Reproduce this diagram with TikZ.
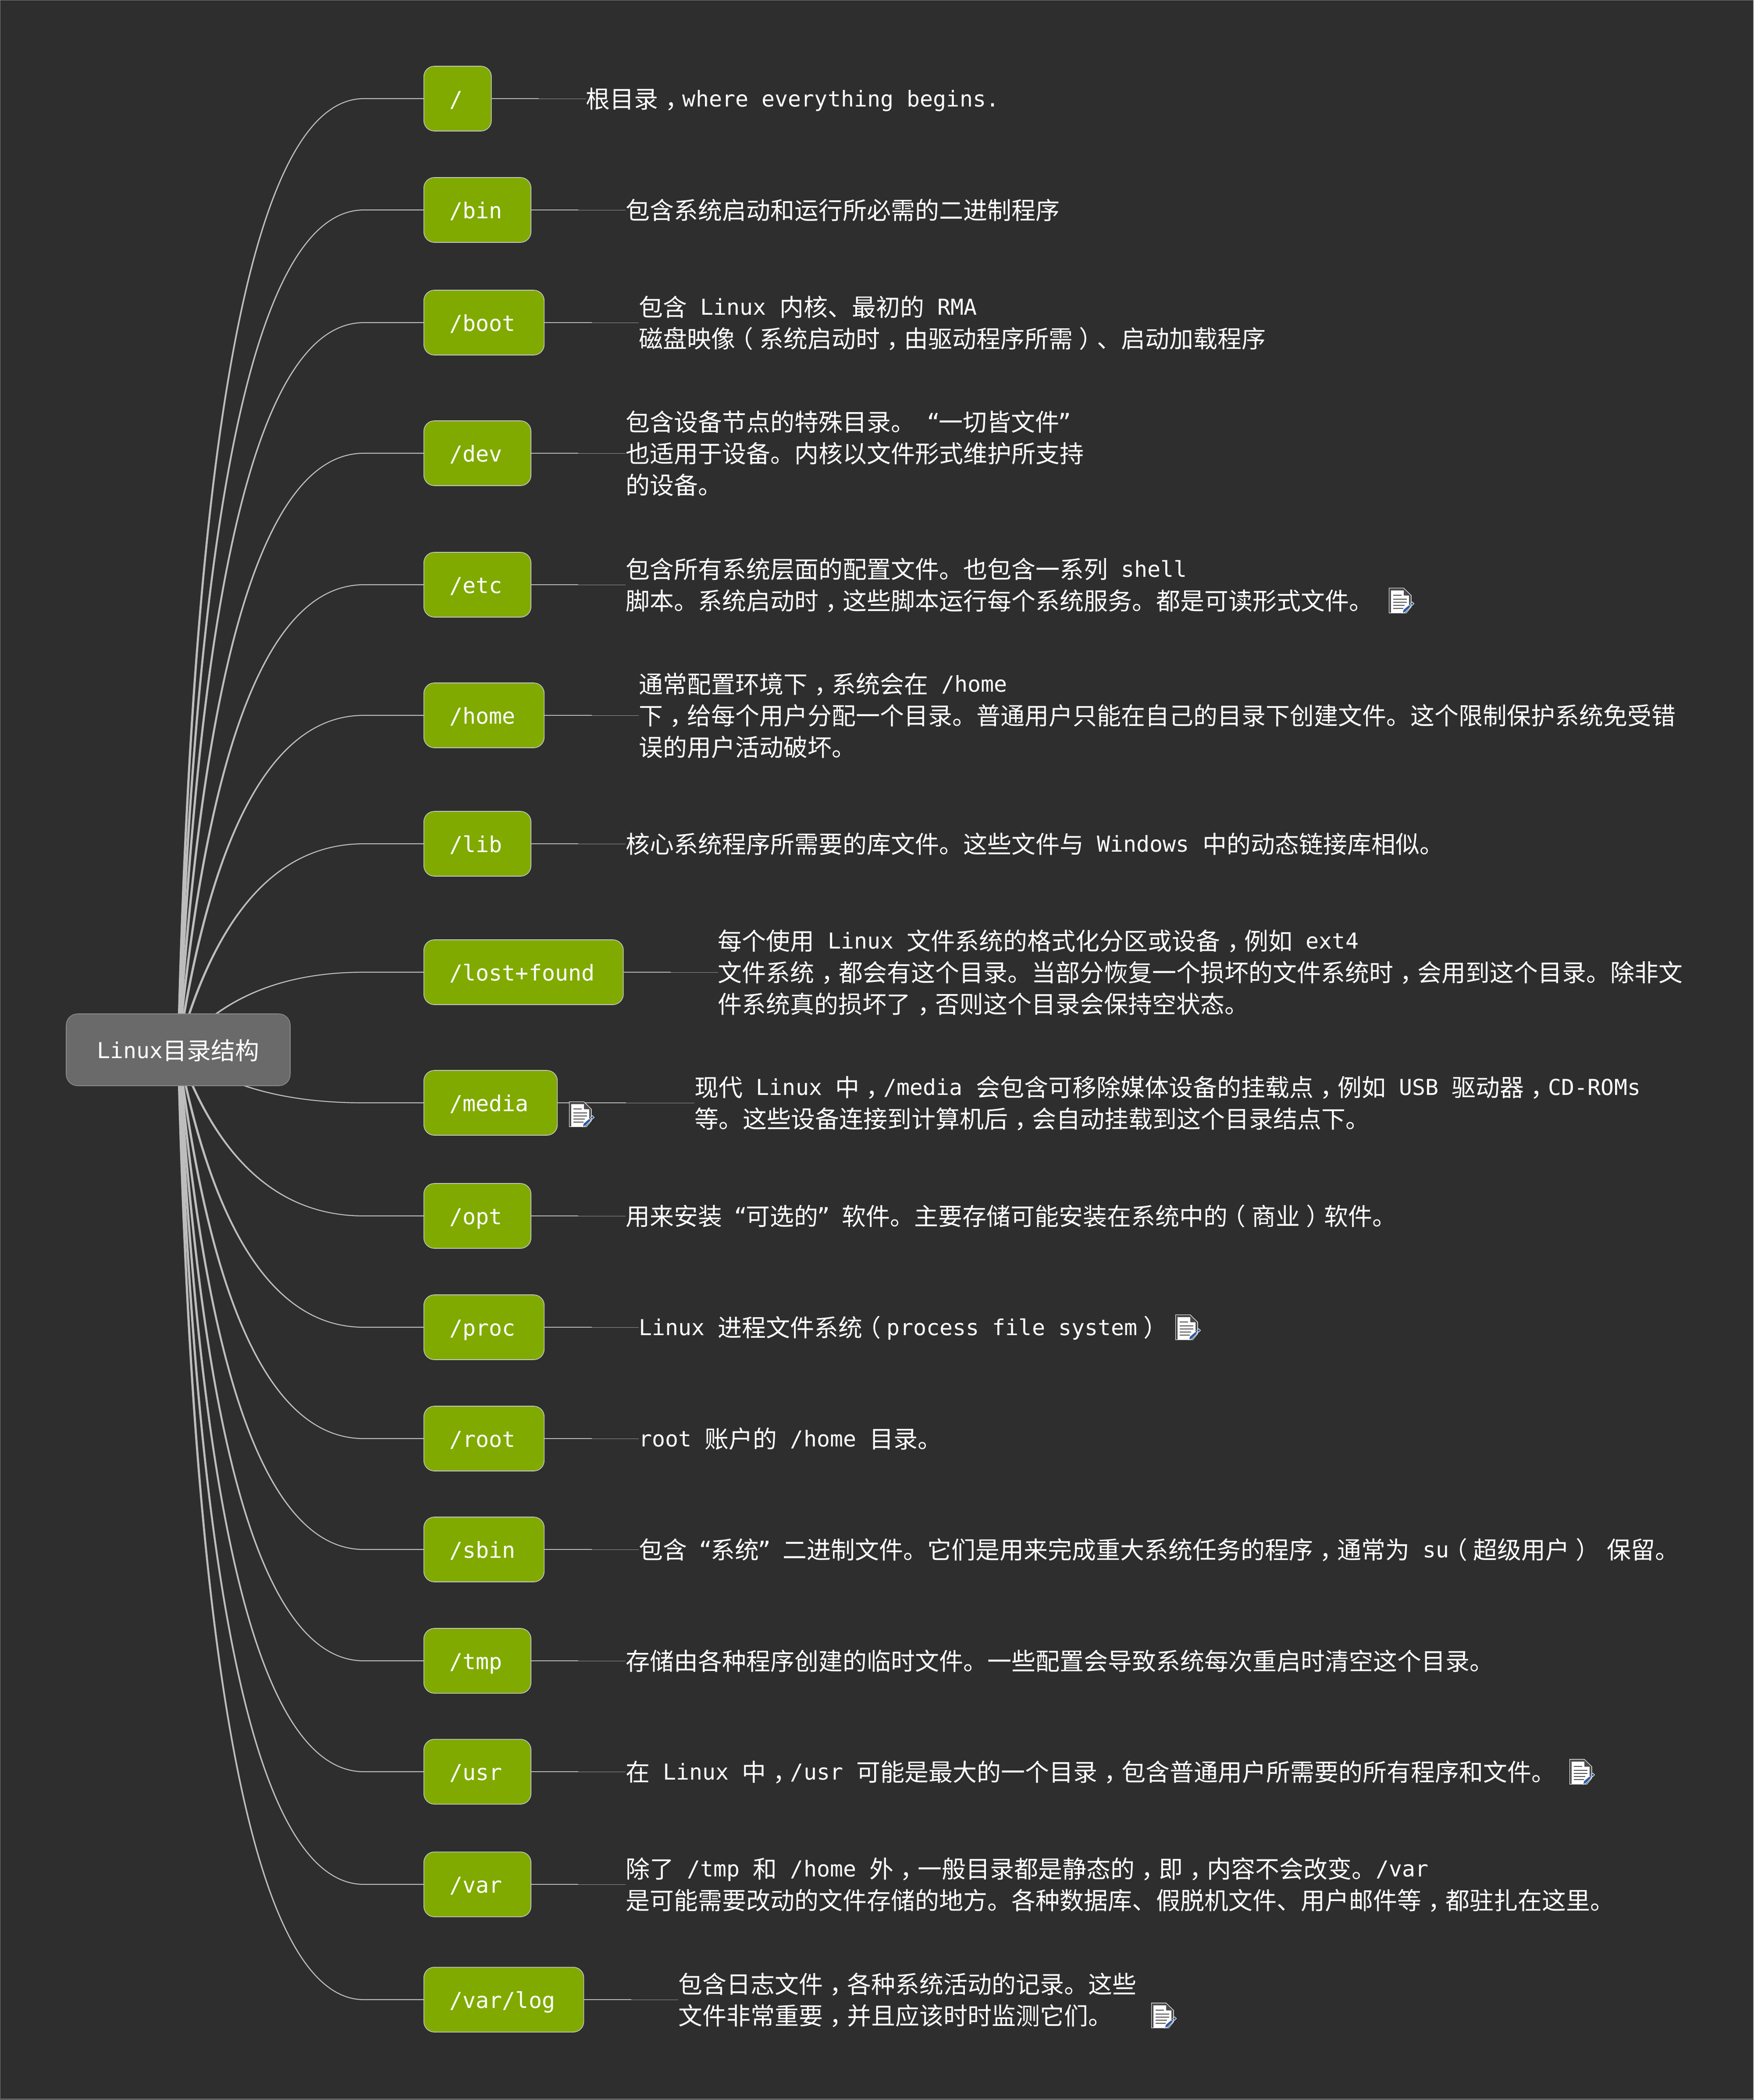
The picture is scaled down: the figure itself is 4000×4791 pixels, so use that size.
\documentclass[tikz,border=0pt]{standalone}
\usepackage{fontspec}
\usetikzlibrary{calc,positioning}
\setmainfont{DejaVu Sans Mono}
\newfontfamily\cjkfont{Noto Sans CJK SC}
\definecolor{canvasbg}{HTML}{2E2E2E}
\definecolor{framecol}{HTML}{808080}
\definecolor{leafgreen}{HTML}{80AA00}
\definecolor{rootgrey}{HTML}{6A6A6A}
\definecolor{linkgrey}{HTML}{BDBDBD}
\definecolor{linkdim}{HTML}{999999}
\definecolor{pagegrey}{HTML}{4A4A4A}
\definecolor{penblue}{HTML}{2A5AA5}
\newcommand\zh[1]{\raisebox{-1.5pt}{\cjkfont\fontsize{27.5}{36}\selectfont #1}}
\newcommand\cma{\makebox[1em][l]{\kern .28em ，}}
\newcommand\lpr{\makebox[1em][l]{\kern -.25em （}}
\newcommand\rpr{\makebox[1em][l]{\kern .25em ）}}
\newcommand\qo{\makebox[12pt][c]{“}}
\newcommand\qc{\makebox[12pt][c]{”}}
\newcommand\lnst{\rule[-9pt]{0pt}{36pt}}
\pgfdeclarelayer{canvas}
\pgfdeclarelayer{links}
\pgfsetlayers{canvas,links,main}
\tikzset{
  dirbox/.style={draw=linkgrey!85,line width=0.8pt,fill=leafgreen,rounded corners=12pt,text=white,
    minimum height=74pt,inner xsep=29.3pt,inner ysep=0pt,text height=20pt,text depth=1pt,anchor=west,
    execute at end node={\kern 3.4pt},
    font=\fontsize{25}{36}\selectfont},
  rootbox/.style={draw=gray!90,line width=0.8pt,fill=rootgrey,rounded corners=13pt,text=white,
    minimum width=255.5pt,minimum height=82pt,inner sep=0pt,text height=20pt,text depth=1pt,
    font=\fontsize{25}{36}\selectfont},
  desc/.style={align=left,inner sep=0pt,anchor=west,text=white,font=\fontsize{25}{36}\selectfont},
  curvelink/.style={draw=linkgrey,fill=linkgrey,line width=1.1pt,line join=round},
  textlink/.style={draw=linkgrey,line width=0.75pt},
  textlinkthin/.style={draw=linkdim,line width=0.5pt},
  docicon/.pic={
    \fill[white] (0,0) -- (34,0) -- (51.5,17) -- (51.5,44) -- (40,58) -- (0,58) -- cycle;
    \fill[pagegrey] (1.2,1.2) -- (33.5,1.2) -- (50.2,17.5) -- (50.2,44) -- (39.5,56.8) -- (1.2,56.8) -- cycle;
    \fill[white] (5,6) -- (34,6) -- (34,17.5) -- (46,17.5) -- (46,44) -- (32,56.8) -- (5,56.8) -- cycle;
    \fill[pagegrey] (10,16) rectangle (29,18.2);
    \fill[pagegrey] (10,25) rectangle (41,27.2);
    \fill[pagegrey] (10,32) rectangle (41,34.2);
    \fill[pagegrey] (10,39) rectangle (36,41.2);
    \fill[pagegrey] (10,46) rectangle (33,48.2);
    \fill[penblue,draw=white,line width=0.5pt] (31,58) -- (33,50) -- (46,39) -- (50,43) -- (38,55) -- cycle;
    \fill[penblue,draw=white,line width=0.5pt] (49,36) -- (53,32) -- (57.5,36) -- (53,40.5) -- cycle;
  }
}
\begin{document}
\begin{tikzpicture}[x=0.5pt,y=-0.5pt]
\useasboundingbox (0,0) rectangle (4000,4791);
\begin{pgfonlayer}{canvas}
  \fill[canvasbg] (0,0) rectangle (4000,4791);
  \draw[framecol,line width=0.6pt] (0.6,0.6) rectangle (3999.4,4789);
\end{pgfonlayer}

\node[rootbox] (root) at (406.5,2395) {Linux\zh{目录结构}};

\node[dirbox] (a) at (966,225) {/};
\node[dirbox] (b) at (966,479) {/bin};
\node[dirbox] (c) at (966,736) {/boot};
\node[dirbox] (d) at (966,1034) {/dev};
\node[dirbox] (e) at (966,1334) {/etc};
\node[dirbox] (f) at (966,1632) {/home};
\node[dirbox] (g) at (966,1925) {/lib};
\node[dirbox] (h) at (966,2218) {/lost+found};
\node[dirbox] (i) at (966,2516) {/media};
\node[dirbox] (j) at (966,2774) {/opt};
\node[dirbox] (k) at (966,3028) {/proc};
\node[dirbox] (l) at (966,3282) {/root};
\node[dirbox] (m) at (966,3535) {/sbin};
\node[dirbox] (n) at (966,3789) {/tmp};
\node[dirbox] (o) at (966,4042) {/usr};
\node[dirbox] (p) at (966,4299) {/var};
\node[dirbox] (q) at (966,4562) {/var/log};

\node[desc,right=107.4pt of a.east] (ta) {\lnst\zh{根目录\cma}where everything begins.};
\node[desc,right=107.4pt of b.east] (tb) {\lnst\zh{包含系统启动和运行所必需的二进制程序}};
\node[desc,right=107.4pt of c.east] (tc) {\lnst\zh{包含} Linux \zh{内核、最初的} RMA\\\lnst\zh{磁盘映像\lpr 系统启动时\cma 由驱动程序所需\rpr 、启动加载程序}};
\node[desc,right=107.4pt of d.east] (td) {\lnst\zh{包含设备节点的特殊目录。} \qo\zh{一切皆文件}\qc\\\lnst\zh{也适用于设备。内核以文件形式维护所支持}\\\lnst\zh{的设备。}};
\node[desc,right=107.4pt of e.east] (te) {\lnst\zh{包含所有系统层面的配置文件。也包含一系列} shell\\\lnst\zh{脚本。系统启动时\cma 这些脚本运行每个系统服务。都是可读形式文件。}};
\node[desc,right=107.4pt of f.east] (tf) {\lnst\zh{通常配置环境下\cma 系统会在} /home\\\lnst\zh{下\cma 给每个用户分配一个目录。普通用户只能在自己的目录下创建文件。这个限制保护系统免受错}\\\lnst\zh{误的用户活动破坏。}};
\node[desc,right=107.4pt of g.east] (tg) {\lnst\zh{核心系统程序所需要的库文件。这些文件与} Windows \zh{中的动态链接库相似。}};
\node[desc,right=107.4pt of h.east] (th) {\lnst\zh{每个使用} Linux \zh{文件系统的格式化分区或设备\cma 例如} ext4\\\lnst\zh{文件系统\cma 都会有这个目录。当部分恢复一个损坏的文件系统时\cma 会用到这个目录。除非文}\\\lnst\zh{件系统真的损坏了\cma 否则这个目录会保持空状态。}};
\node[desc,right=156pt of i.east] (ti) {\lnst\zh{现代} Linux \zh{中\cma}/media \zh{会包含可移除媒体设备的挂载点\cma 例如} USB \zh{驱动器\cma}CD-ROMs\\\lnst\zh{等。这些设备连接到计算机后\cma 会自动挂载到这个目录结点下。}};
\node[desc,right=107.4pt of j.east] (tj) {\lnst\zh{用来安装} \qo\zh{可选的}\qc{} \zh{软件。主要存储可能安装在系统中的\lpr 商业\rpr 软件。}};
\node[desc,right=107.4pt of k.east] (tk) {\lnst Linux \zh{进程文件系统\lpr}process file system\zh{\rpr}};
\node[desc,right=107.4pt of l.east] (tl) {\lnst root \zh{账户的} /home \zh{目录。}};
\node[desc,right=107.4pt of m.east] (tm) {\lnst\zh{包含} \qo\zh{系统}\qc{} \zh{二进制文件。它们是用来完成重大系统任务的程序\cma 通常为} su\zh{\lpr 超级用户\rpr} \zh{保留。}};
\node[desc,right=107.4pt of n.east] (tn) {\lnst\zh{存储由各种程序创建的临时文件。一些配置会导致系统每次重启时清空这个目录。}};
\node[desc,right=107.4pt of o.east] (to) {\lnst\zh{在} Linux \zh{中\cma}/usr \zh{可能是最大的一个目录\cma 包含普通用户所需要的所有程序和文件。}};
\node[desc,right=107.4pt of p.east] (tp) {\lnst\zh{除了} /tmp \zh{和} /home \zh{外\cma 一般目录都是静态的\cma 即\cma 内容不会改变。}/var\\\lnst\zh{是可能需要改动的文件存储的地方。各种数据库、假脱机文件、用户邮件等\cma 都驻扎在这里。}};
\node[desc,right=107.4pt of q.east] (tq) {\lnst\zh{包含日志文件\cma 各种系统活动的记录。这些}\\\lnst\zh{文件非常重要\cma 并且应该时时监测它们。}};

\pic at (3168,1341) {docicon};
\pic at (1298,2513) {docicon};
\pic at (2681,2999) {docicon};
\pic at (3580,4013) {docicon};
\pic at (2626,4569) {docicon};

\begin{pgfonlayer}{links}
  \foreach \b in {a,b,c,d,e,f,g,h,i,j,k,l,m,n,o,p,q}{
    \filldraw[curvelink] let \p1=(root.center),\p2=(\b.west),
        \n1={26+50*(1-abs(\y2-\y1)/1085)} in
      (\b.west) -- ([xshift=-68pt]\b.west)
        .. controls ({\x2-68pt+0.6667*(\x1+\n1-\x2+68pt)},\y2) and ({\x1+0.6667*\n1-0.8pt},{\y1+0.6667*(\y2-\y1)})
        .. ({\x1-0.8pt},\y1) -- ({\x1+0.8pt},\y1)
        .. controls ({\x1+0.6667*\n1+0.8pt},{\y1+0.6667*(\y2-\y1)}) and ({\x2-68pt+0.6667*(\x1+\n1-\x2+68pt)},\y2)
        .. ([xshift=-68pt]\b.west);
  }
  \foreach \b/\t in {a/ta,b/tb,c/tc,d/td,e/te,f/tf,g/tg,h/th,i/ti,j/tj,k/tk,l/tl,m/tm,n/tn,o/to,p/tp,q/tq}{
    \draw[textlink] (\b.east) -- ($(\b.east)!0.5!(\t.west)$);
    \draw[textlinkthin] ($(\b.east)!0.5!(\t.west)$) -- (\t.west);
  }
\end{pgfonlayer}
\end{tikzpicture}
\end{document}
